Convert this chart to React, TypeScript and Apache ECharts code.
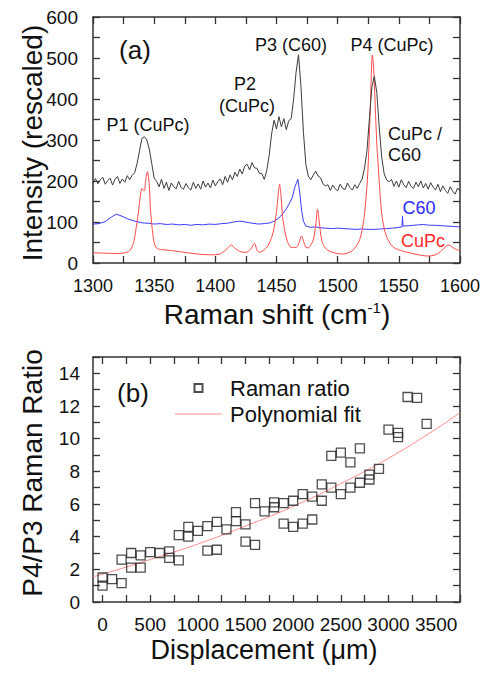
import React, { useEffect, useRef } from "react";
import * as echarts from "echarts";

const FONT = "'Liberation Sans', Arial, Helvetica, sans-serif";

// ---------- Panel (a): Raman spectra ----------
const shiftStart = 1300;
const shiftStep = 2;
// CuPc / C60 spectrum (black), sampled every 2 cm-1 from 1300 to 1600
const cupcC60Intensity = [
  196, 206, 193, 203, 209, 192, 201, 207, 190, 204, 211, 194, 205, 197, 213, 203,
  214, 220, 242, 273, 304, 308, 300, 278, 243, 207,
  199, 186, 204, 182, 197, 177, 195, 186, 181, 199, 184, 180, 194, 183, 178, 197, 182, 193, 180, 200, 185, 195, 183, 202, 188,
  198, 205, 191, 211, 197, 215, 203, 221, 211, 229, 217, 236, 241, 227, 245, 232, 231, 219, 218, 204,
  225, 262, 315, 348, 327, 357, 332, 352, 325, 347, 352,
  400, 465, 508, 430, 320, 240, 212,
  203, 214, 224, 212, 208,
  193, 188, 191, 177, 190, 181, 176, 192, 182, 179, 195, 184, 178, 191, 182, 194,
  205, 232, 275, 355, 430, 455, 415, 330, 258, 218, 203,
  198, 204, 187, 200, 185, 203, 191, 184, 199, 187, 182, 197, 186, 200, 183, 194, 180, 196, 185, 178,
  192, 174, 188, 177, 170, 186, 175, 168, 183, 175,
];

// C60 spectrum (blue): [shift, intensity]
const c60Spectrum: [number, number][] = [
  [1300, 95], [1305, 96], [1310, 101], [1315, 112], [1319, 119], [1323, 115], [1328, 108],
  [1333, 103], [1340, 98], [1345, 97], [1350, 95], [1355, 96], [1360, 94], [1365, 95], [1370, 93],
  [1375, 94], [1380, 92], [1385, 94], [1390, 93], [1395, 95], [1400, 94], [1405, 96], [1410, 97],
  [1415, 100], [1420, 102], [1425, 100], [1428, 98], [1435, 95], [1440, 96], [1445, 98],
  [1448, 102], [1452, 110], [1455, 120], [1458, 132], [1461, 148], [1463, 161], [1465, 185],
  [1467.5, 204], [1469, 172], [1470.5, 128], [1472, 102], [1474, 90], [1478, 87], [1482, 88],
  [1485, 86], [1490, 85], [1495, 84], [1500, 85], [1505, 84], [1510, 83], [1515, 82], [1520, 83],
  [1525, 82], [1530, 82], [1535, 83], [1540, 84], [1545, 85], [1550, 87], [1552.5, 88],
  [1553, 114], [1553.5, 90], [1558, 91], [1562, 92], [1566, 93], [1570, 94], [1575, 92],
  [1580, 92], [1585, 91], [1590, 90], [1595, 89], [1600, 88],
];

// CuPc spectrum (red): [shift, intensity]
const cupcSpectrum: [number, number][] = [
  [1300, 25], [1310, 24], [1320, 23], [1326, 25], [1330, 30], [1333, 48], [1335, 80],
  [1337, 121], [1339, 170], [1340, 182], [1341, 178], [1342, 176], [1343, 200], [1344.5, 223],
  [1346, 190], [1347, 130], [1348.5, 81], [1350, 50], [1352, 36], [1356, 33], [1365, 30],
  [1375, 26], [1385, 22], [1395, 20], [1403, 21], [1407, 28], [1410, 36], [1413, 44],
  [1416, 36], [1420, 28], [1425, 26], [1429, 34], [1432, 48], [1434, 32], [1436, 26],
  [1440, 32], [1443, 42], [1446, 62], [1448, 85], [1450, 125], [1451.5, 170], [1452.5, 192],
  [1453.5, 170], [1455, 113], [1457, 75], [1459, 52], [1462, 38], [1466, 38], [1468, 46],
  [1470.5, 66], [1472, 55], [1474, 38], [1476, 37], [1478, 44], [1480, 55], [1482, 90],
  [1483.5, 131], [1485, 100], [1487, 55], [1490, 36], [1494, 28], [1500, 23], [1504, 22],
  [1508, 24], [1512, 30], [1515, 40], [1518, 57], [1520, 80], [1522, 121], [1524, 190],
  [1525, 244], [1526.5, 360], [1527.5, 460], [1528.3, 507], [1529.5, 470], [1531, 360],
  [1532, 290], [1533, 244], [1534.5, 175], [1536, 121], [1538, 85], [1540, 64], [1545, 40],
  [1552, 30], [1560, 24], [1566, 20], [1573, 17], [1580, 20], [1585, 30], [1589, 42],
  [1591, 44], [1594, 38], [1597, 33], [1600, 30],
];

const shiftLabels = [1300, 1350, 1400, 1450, 1500, 1550, 1600];
const shiftTicks = [1300, 1325, 1350, 1375, 1400, 1425, 1450, 1475, 1500, 1525, 1550, 1575, 1600];
const intensityLabels = [0, 100, 200, 300, 400, 500, 600];
const intensityTicks = [0, 50, 100, 150, 200, 250, 300, 350, 400, 450, 500, 550, 600];

// ---------- Panel (b): Raman ratio vs displacement ----------
const displacement = [
  0, 0, 100, 200, 200, 300, 300, 400, 400, 500, 600, 700, 700, 800, 800, 900, 900, 1000,
  1100, 1100, 1200, 1200, 1300, 1400, 1400, 1500, 1500, 1600, 1600, 1700, 1800, 1800,
  1900, 1900, 2000, 2000, 2100, 2100, 2200, 2200, 2300, 2300, 2400, 2400, 2500, 2500,
  2600, 2600, 2700, 2700, 2800, 2800, 2900, 3000, 3100, 3100, 3200, 3300, 3400,
];
const ramanRatio = [
  1.0, 1.5, 1.4, 1.15, 2.6, 3.0, 2.1, 2.1, 2.85, 3.05, 3.0, 3.1, 2.7, 2.55, 4.1, 4.0, 4.6, 4.35,
  3.15, 4.65, 3.2, 4.9, 4.45, 4.95, 5.5, 4.75, 3.7, 3.5, 6.05, 5.55, 5.8, 6.1,
  6.05, 4.8, 4.6, 6.2, 4.8, 6.6, 5.05, 6.45, 6.2, 7.2, 7.0, 8.95, 6.6, 9.15,
  7.0, 8.55, 7.3, 9.4, 7.5, 7.8, 8.15, 10.55, 10.1, 10.35, 12.55, 12.5, 10.9,
];
const fitDisplacement = [-100, 0, 500, 1000, 1500, 2000, 2500, 3000, 3500, 3750];
const fitRatio = [1.55, 1.7, 2.6, 3.55, 4.65, 5.85, 7.25, 8.8, 10.6, 11.6];

const dispLabels = [0, 500, 1000, 1500, 2000, 2500, 3000, 3500];
const dispTicks = [0, 250, 500, 750, 1000, 1250, 1500, 1750, 2000, 2250, 2500, 2750, 3000, 3250, 3500, 3750];
const ratioLabels = [0, 2, 4, 6, 8, 10, 12, 14];
const ratioTicks = [0, 1, 2, 3, 4, 5, 6, 7, 8, 9, 10, 11, 12, 13, 14, 15];

const AX = "#333";

function ticks(vals: number[]) {
  return { show: true, inside: true, length: 7, customValues: vals, lineStyle: { color: AX, width: 1.3 } };
}
const line = { show: true, onZero: false, lineStyle: { color: AX, width: 1.5 } };
function labels(vals: number[], margin: number, size: number) {
  return {
    show: true,
    customValues: vals,
    margin,
    fontSize: size,
    color: "#111",
    fontFamily: FONT,
    formatter: (v: number) => String(v),
  };
}
function mirror(kind: "x" | "y", grid: number, min: number, max: number, tv: number[]) {
  return {
    type: "value",
    gridIndex: grid,
    min,
    max,
    position: kind === "x" ? "top" : "right",
    axisLine: line,
    axisTick: ticks(tv),
    axisLabel: { show: false },
    splitLine: { show: false },
  };
}

function txt(text: string, x: number, y: number, size: number, color = "#111", align = "center", rotation = 0, rich?: any) {
  return {
    type: "text",
    x,
    y,
    rotation,
    style: {
      text,
      x: 0,
      y: 0,
      fill: color,
      fontSize: size,
      fontFamily: FONT,
      align,
      verticalAlign: "middle",
      rich,
    },
  };
}

export default function App() {
  const ref = useRef<HTMLDivElement>(null);
  useEffect(() => {
    if (!ref.current) return;
    const chart = echarts.init(ref.current, undefined, { renderer: "svg" });
    const blackData = cupcC60Intensity.map((v, i) => [shiftStart + i * shiftStep, v]);
    const ratioData = displacement.map((d, i) => [d, ramanRatio[i]]);
    const fitData = fitDisplacement.map((d, i) => [d, fitRatio[i]]);

    chart.setOption({
      animation: false,
      backgroundColor: "#fff",
      textStyle: { fontFamily: FONT },
      grid: [
        { left: 93, top: 17, width: 367, height: 246 },
        { left: 93, top: 357, width: 367, height: 245 },
      ],
      xAxis: [
        {
          type: "value", gridIndex: 0, min: 1300, max: 1600, position: "bottom",
          axisLine: line, axisTick: ticks(shiftTicks), axisLabel: labels(shiftLabels, 14, 18), splitLine: { show: false },
        },
        mirror("x", 0, 1300, 1600, shiftTicks),
        {
          type: "value", gridIndex: 1, min: -100, max: 3750, position: "bottom",
          axisLine: line, axisTick: ticks(dispTicks), axisLabel: labels(dispLabels, 13, 19), splitLine: { show: false },
        },
        mirror("x", 1, -100, 3750, dispTicks),
      ],
      yAxis: [
        {
          type: "value", gridIndex: 0, min: 0, max: 600, position: "left",
          axisLine: line, axisTick: ticks(intensityTicks), axisLabel: labels(intensityLabels, 15, 19), splitLine: { show: false },
        },
        mirror("y", 0, 0, 600, intensityTicks),
        {
          type: "value", gridIndex: 1, min: 0, max: 15, position: "left",
          axisLine: line, axisTick: ticks(ratioTicks), axisLabel: labels(ratioLabels, 13, 19), splitLine: { show: false },
        },
        mirror("y", 1, 0, 15, ratioTicks),
      ],
      legend: {
        data: [
          { name: "Raman ratio", icon: "path://M0,0L10,0L10,10L0,10Z" },
          { name: "Polynomial fit", icon: "path://M0,0L60,0L60,1.3L0,1.3Z" },
        ],
        orient: "vertical",
        left: 170,
        top: 372,
        itemWidth: 47,
        itemHeight: 8,
        itemGap: 4,
        selectedMode: false,
        textStyle: { fontSize: 22, fontFamily: FONT, color: "#111", padding: [0, 0, 0, 3] },
      },
      series: [
        {
          name: "CuPc / C60", type: "line", xAxisIndex: 0, yAxisIndex: 0, data: blackData,
          symbol: "none", lineStyle: { color: "#3c3c3c", width: 1 }, z: 3,
        },
        {
          name: "C60", type: "line", xAxisIndex: 0, yAxisIndex: 0, data: c60Spectrum,
          symbol: "none", lineStyle: { color: "#3a3aff", width: 1 }, z: 2,
        },
        {
          name: "CuPc", type: "line", xAxisIndex: 0, yAxisIndex: 0, data: cupcSpectrum,
          symbol: "none", smooth: 0.3, lineStyle: { color: "#ff4a4a", width: 1 }, z: 2,
        },
        {
          name: "Raman ratio", type: "scatter", xAxisIndex: 2, yAxisIndex: 2, data: ratioData,
          symbol: "rect", symbolSize: 9,
          itemStyle: { color: "rgba(255,255,255,0)", borderColor: "#222", borderWidth: 1.3 },
          z: 3,
        },
        {
          name: "Polynomial fit", type: "line", xAxisIndex: 2, yAxisIndex: 2, data: fitData,
          symbol: "none", showSymbol: false, smooth: true, lineStyle: { color: "#ff8a8a", width: 1 },
          itemStyle: { color: "#ff8a8a" }, z: 2,
        },
      ],
      graphic: [
        txt("(a)", 135, 50, 26),
        txt("P1 (CuPc)", 148, 125, 18),
        txt("P2", 245, 84, 18),
        txt("(CuPc)", 247, 106, 18),
        txt("P3 (C60)", 291, 45, 18),
        txt("P4 (CuPc)", 392, 45, 18),
        txt("CuPc /", 388, 134, 18, "#111", "left"),
        txt("C60", 388, 155, 18, "#111", "left"),
        txt("C60", 419, 208, 18, "#2a2aff"),
        txt("CuPc", 423, 241, 18, "#ff2a2a"),
        txt("(b)", 133, 393, 26),
        txt("Intensity (rescaled)", 32, 143, 28, "#111", "center", Math.PI / 2),
        txt("P4/P3 Raman Ratio", 32, 473, 28, "#111", "center", Math.PI / 2),
        txt("Raman shift (cm{sup|-1})", 277, 314, 28, "#111", "center", 0, {
          sup: { fontSize: 15, fontFamily: FONT, fill: "#111", padding: [0, 0, 14, 0] },
        }),
        txt("Displacement (\u03bcm)", 264, 650, 27),
      ],
    });
    return () => chart.dispose();
  }, []);
  return <div ref={ref} style={{ position: "fixed", left: 0, top: 0, width: 484, height: 675 }} />;
}
